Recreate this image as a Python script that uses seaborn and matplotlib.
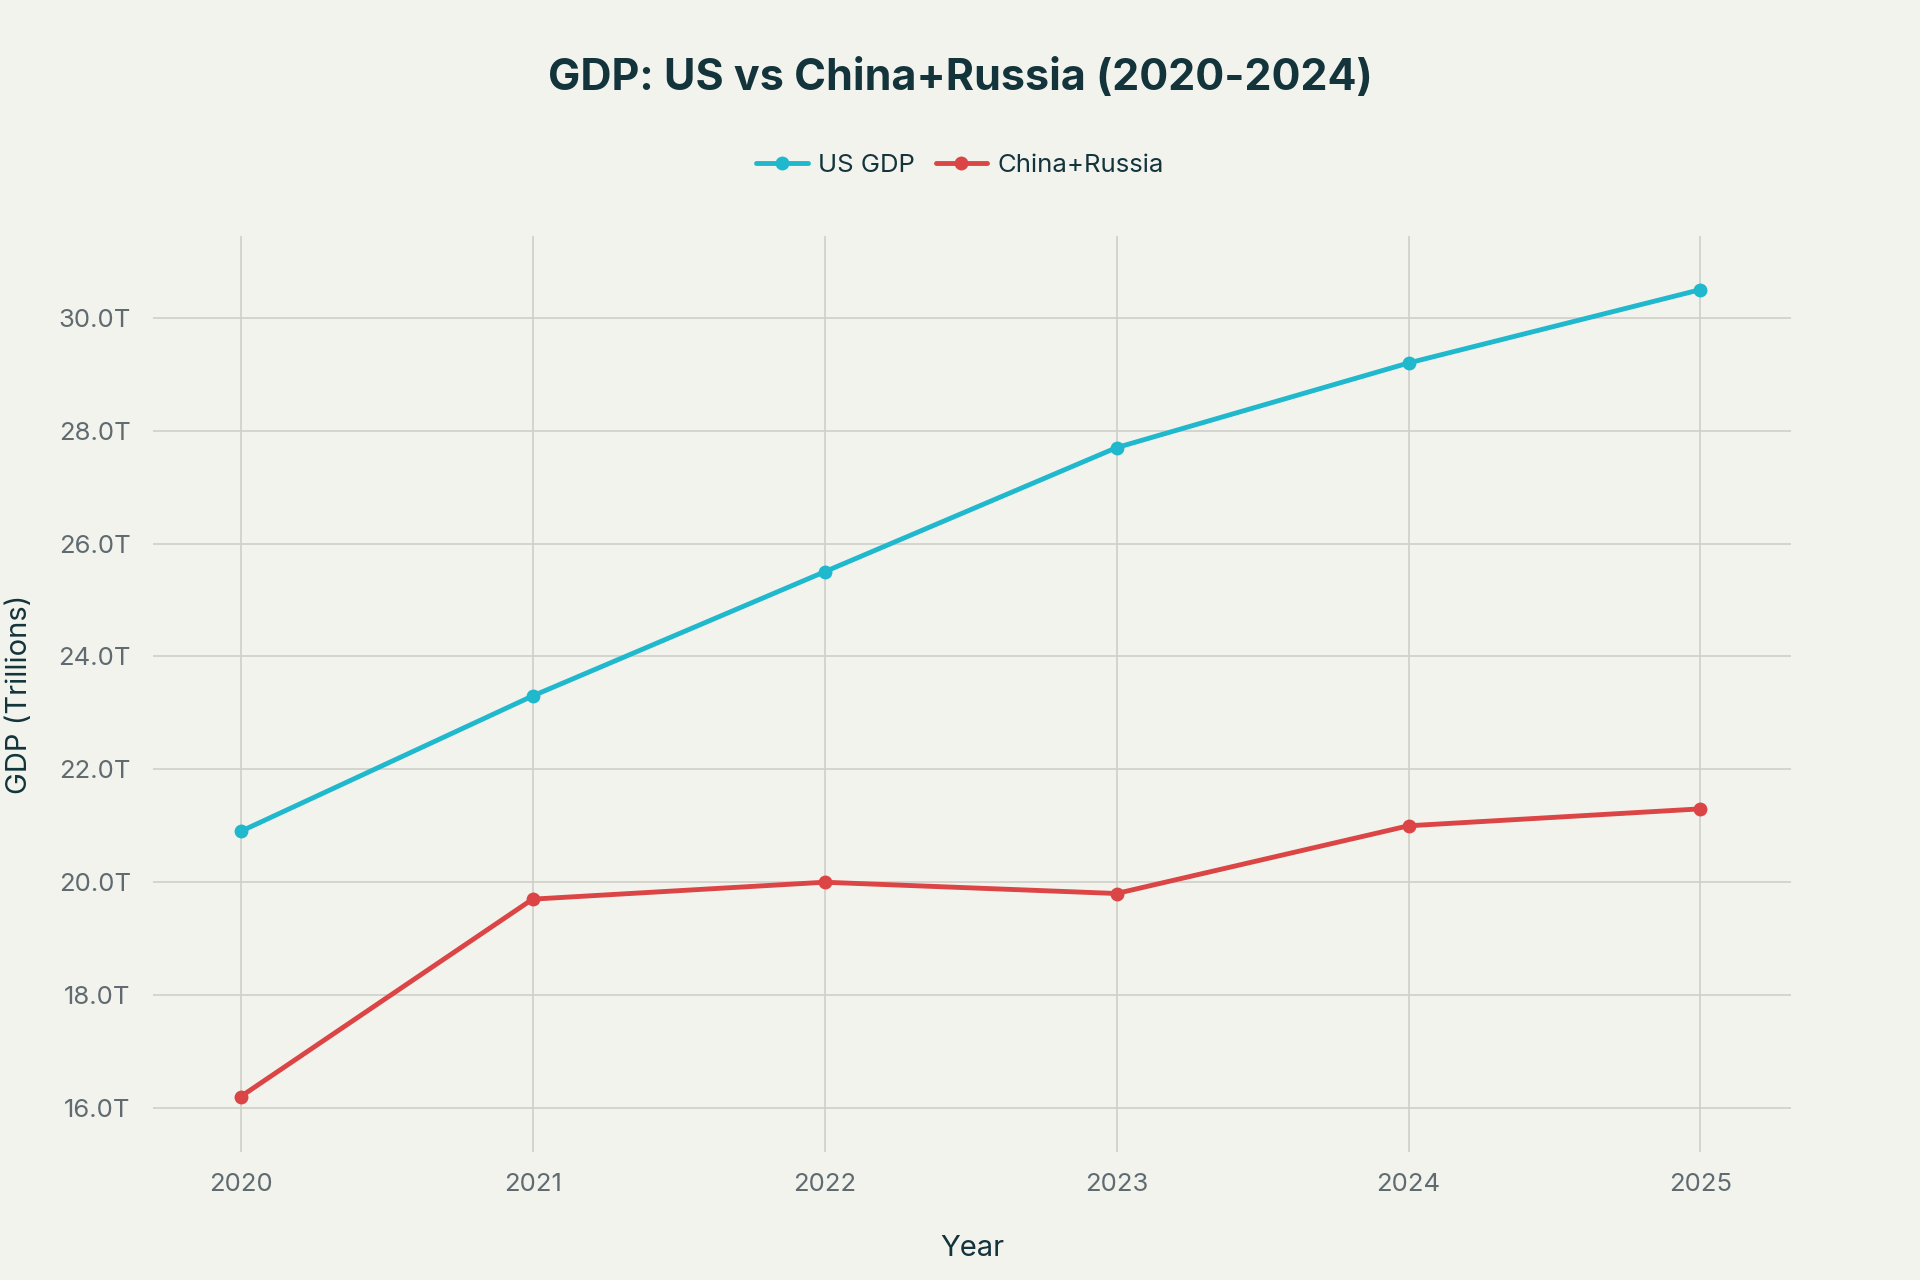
import matplotlib
matplotlib.use("Agg")
import matplotlib.pyplot as plt
import seaborn as sns
import pandas as pd

years = [2020, 2021, 2022, 2023, 2024, 2025]
us_gdp = [20.9, 23.3, 25.5, 27.7, 29.2, 30.5]
china_russia = [16.2, 19.7, 20.0, 19.8, 21.0, 21.3]
series_names = ["US GDP", "China+Russia"]
y_ticks = [16, 18, 20, 22, 24, 26, 28, 30]

df = pd.DataFrame({
    "Year": years * 2,
    "GDP": us_gdp + china_russia,
    "Series": [series_names[0]] * len(years) + [series_names[1]] * len(years),
})

bg = "#F3F3EE"
sns.set_theme(style="white")
plt.rcParams['font.family'] = ['Inter', 'DejaVu Sans']

fig = plt.figure(figsize=(19.2, 12.8), dpi=100, facecolor=bg)
ax = fig.add_axes([153/1920, 1 - 1152/1280, (1791-153)/1920, (1152-236)/1280])
ax.set_facecolor(bg)

palette = {"US GDP": "#1FB8CD", "China+Russia": "#DB4545"}
sns.lineplot(data=df, x="Year", y="GDP", hue="Series", palette=palette,
             marker="o", markersize=10, markeredgewidth=0, linewidth=3.5,
             ax=ax, legend=True)

ax.set_xlim(2019.70, 2025.31)
ax.set_ylim(15.22, 31.45)
ax.set_xticks(years)
ax.set_xticklabels([str(y) for y in years])
ax.set_yticks(y_ticks)
ax.set_yticklabels([f"{v:.1f}T" for v in y_ticks])

ax.grid(True, color="#D0D0CB", linewidth=1.2)
ax.set_axisbelow(True)
for s in ax.spines.values():
    s.set_visible(False)
ax.tick_params(axis="x", which="major", length=6, width=1.2, color="#D0D0CB",
               labelsize=18.5, labelcolor="#5F6B70", pad=9)
ax.tick_params(axis="y", which="major", length=6, width=1.2, color="#D0D0CB",
               labelsize=18.5, labelcolor="#5F6B70", pad=10)

ax.set_xlabel("Year", fontsize=21, color="#13343B", labelpad=28)
ax.set_ylabel("GDP (Trillions)", fontsize=21, color="#13343B", labelpad=18)

fig.suptitle("GDP: US vs China+Russia (2020-2024)", x=0.5, y=1 - 78/1280,
             va="center", fontsize=31, fontweight="bold", color="#13343B")

handles, labels = ax.get_legend_handles_labels()
leg = ax.legend(handles, labels, loc="center", bbox_to_anchor=(0.5, 1 - 165/1280),
                bbox_transform=fig.transFigure, ncol=2, frameon=False,
                fontsize=18.5, handlelength=2.0, columnspacing=0.8, handletextpad=0.4)
for t in leg.get_texts():
    t.set_color("#13343B")

fig.savefig("out.png", dpi=100, facecolor=bg)
